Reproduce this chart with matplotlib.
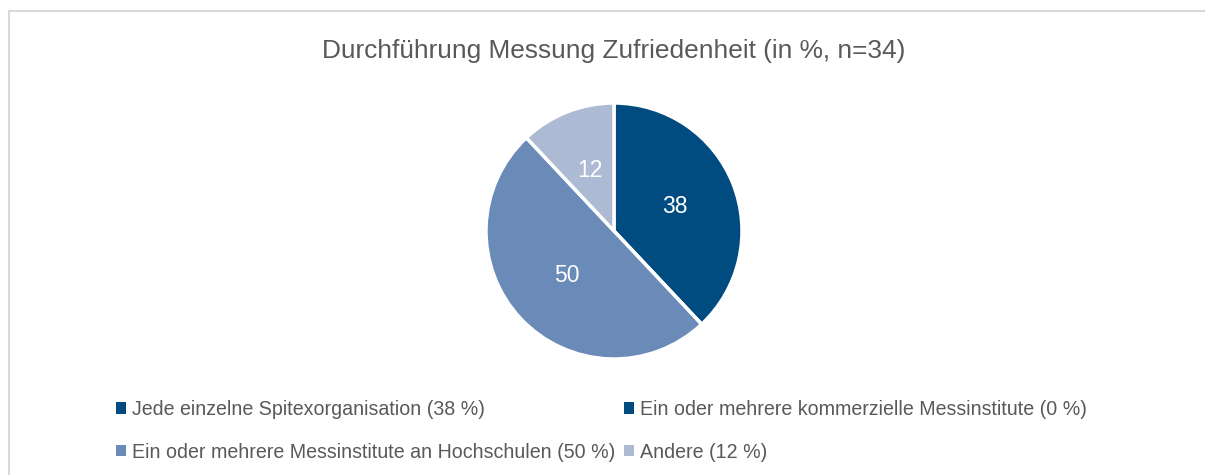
import matplotlib
matplotlib.use('Agg')
import matplotlib.pyplot as plt
from matplotlib.lines import Line2D

# data
categories = ['Jede einzelne Spitexorganisation',
              'Ein oder mehrere kommerzielle Messinstitute',
              'Ein oder mehrere Messinstitute an Hochschulen',
              'Andere']
values = [38, 0, 50, 12]
colors = ['#004B7F', '#004B7F', '#6A8AB7', '#ADBAD3']
title = 'Durchführung Messung Zufriedenheit (in %, n=34)'

plt.rcParams['font.family'] = ['Liberation Sans', 'DejaVu Sans']
textColor = '#595959'

W, H = 1205.0, 475.0
fig = plt.figure(figsize=(W / 100, H / 100), dpi=100)

# chart frame (light grey border, only top and left visible)
fig.add_artist(Line2D([8.5 / W, 1], [1 - 11 / H, 1 - 11 / H], transform=fig.transFigure,
                      color='#D9D9D9', linewidth=1.5))
fig.add_artist(Line2D([8.5 / W, 8.5 / W], [0, 1 - 11 / H], transform=fig.transFigure,
                      color='#D9D9D9', linewidth=1.5))

fig.text(614 / W, 1 - 51 / H, title, ha='center', va='center',
         fontsize=18.9, color=textColor)

r = 128
ax = fig.add_axes([(614 - r) / W, (H - 231 - r) / H, 2 * r / W, 2 * r / H])
wedges, texts, autotexts = ax.pie(values, colors=colors, startangle=90, counterclock=False,
                                  autopct=lambda p: '%.0f' % p if p > 0.5 else '',
                                  pctdistance=0.51,
                                  wedgeprops=dict(edgecolor='white', linewidth=2.5))
for t in autotexts:
    t.set_color('white')
    t.set_fontsize(16.5)
ax.set_xlim(-1, 1)
ax.set_ylim(-1, 1)
ax.axis('off')

labels = ['%s (%d %%)' % (c, v) for c, v in zip(categories, values)]
order = [0, 2, 1, 3]
leg = fig.legend([wedges[i] for i in order], [labels[i] for i in order],
                 ncol=2, loc='upper left', bbox_to_anchor=(116 / W, 1 - 400 / H),
                 frameon=False, fontsize=14.1, handlelength=0.5, handleheight=0.5,
                 handletextpad=0.32, columnspacing=0.45, labelspacing=1.2,
                 borderpad=0, borderaxespad=0)
for t in leg.get_texts():
    t.set_color(textColor)
for h in leg.legend_handles:
    h.set_edgecolor('none')

fig.savefig('out.png', dpi=100)
